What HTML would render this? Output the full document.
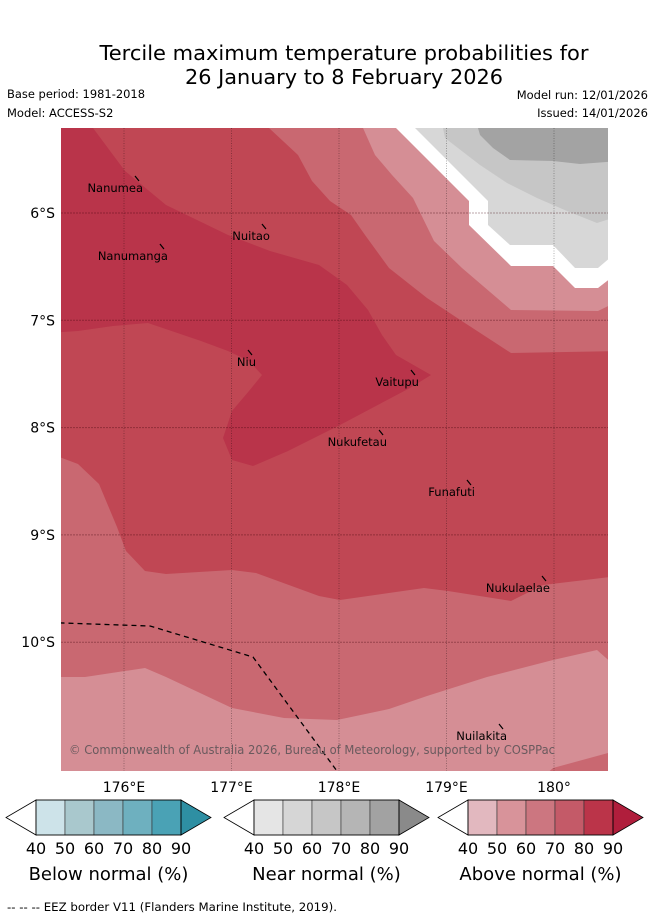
<!DOCTYPE html>
<html><head><meta charset="utf-8">
<style>
html,body{margin:0;padding:0;background:#fff;}
body{width:655px;height:919px;overflow:hidden;font-family:"Liberation Sans","DejaVu Sans",sans-serif;}
svg text{font-family:"DejaVu Sans","Liberation Sans",sans-serif;}
</style></head>
<body>
<svg id="chart" width="655" height="919" viewBox="0 0 655 919" xmlns="http://www.w3.org/2000/svg">
<text x="344" y="60" font-size="20" text-anchor="middle" fill="#000" textLength="489" lengthAdjust="spacingAndGlyphs">Tercile maximum temperature probabilities for</text>
<text x="344" y="84" font-size="20" text-anchor="middle" fill="#000" textLength="318" lengthAdjust="spacingAndGlyphs">26 January to 8 February 2026</text>
<text x="7" y="98" font-size="11.5" textLength="138" lengthAdjust="spacingAndGlyphs">Base period: 1981-2018</text>
<text x="7" y="117" font-size="11.5">Model: ACCESS-S2</text>
<text x="648" y="99" font-size="11.5" text-anchor="end">Model run: 12/01/2026</text>
<text x="648" y="117" font-size="11.5" text-anchor="end">Issued: 14/01/2026</text>
<defs><clipPath id="mapclip"><rect x="61" y="128" width="547" height="643"/></clipPath></defs>
<g id="map" clip-path="url(#mapclip)"></g>
<g id="overlay"></g>
<g id="legends"></g>
<text x="7" y="911" font-size="11.5" textLength="330" lengthAdjust="spacingAndGlyphs">--  --  -- EEZ border V11 (Flanders Marine Institute, 2019).</text>
</svg>
<script>
// ---- data ----
const lonTicks = [176, 177, 178, 179, 180];
const lonTickLabels = ["176°E", "177°E", "178°E", "179°E", "180°"];
const latTicks = [-6, -7, -8, -9, -10];
const latTickLabels = ["6°S", "7°S", "8°S", "9°S", "10°S"];
const islandNames = ["Nanumea","Nuitao","Nanumanga","Niu","Vaitupu","Nukufetau","Funafuti","Nukulaelae","Nuilakita"];
const islandLon = [176.121,177.302,176.353,177.172,178.688,178.391,179.209,179.907,179.507];
const islandLat = [-5.674,-6.121,-6.308,-7.295,-7.482,-8.041,-8.507,-9.402,-10.781];
const eezLine = [[175.40,-9.82],[176.242,-9.849],[177.2,-10.138],[177.981,-11.2]];
const bgLevel = "above70";
const contourLevels = ["above80","above60","above50","white","near50","near60","near80","above60","above50","above60"];
const contourPolys = [
 [[175.712,-5.208],[176.009,-5.609],[176.391,-5.925],[176.967,-6.205],[177.358,-6.354],[177.814,-6.485],[178.074,-6.671],[178.270,-6.904],[178.4,-7.137],[178.530,-7.323],[178.856,-7.51],[178.660,-7.631],[178.009,-7.976],[177.526,-8.218],[177.2,-8.358],[177.005,-8.302],[176.921,-8.097],[177.005,-7.845],[177.163,-7.659],[177.284,-7.51],[177.163,-7.379],[176.967,-7.286],[176.716,-7.193],[176.223,-7.025],[175.898,-7.053],[175.572,-7.1],[175.3,-7.118],[175.3,-5.1]],
 [[177.349,-5.1],[177.349,-5.208],[177.619,-5.459],[177.684,-5.581],[177.749,-5.702],[177.916,-5.888],[178.112,-6.019],[178.242,-6.205],[178.465,-6.513],[178.819,-6.792],[179.144,-7.007],[179.6,-7.305],[180.6,-7.286],[180.6,-5.1]],
 [[178.223,-5.1],[178.223,-5.208],[178.335,-5.459],[178.493,-5.646],[178.688,-5.860],[178.884,-6.261],[179.144,-6.513],[179.6,-6.904],[180.409,-6.913],[180.6,-6.82],[180.6,-5.1]],
 [[178.450,-5.1],[178.530,-5.208],[179.209,-5.888],[179.209,-6.112],[179.6,-6.494],[179.991,-6.494],[180.195,-6.699],[180.409,-6.699],[180.6,-6.55],[180.6,-5.1]],
 [[178.62,-5.1],[178.707,-5.208],[179.386,-5.888],[179.386,-6.112],[179.591,-6.298],[179.991,-6.298],[180.195,-6.513],[180.409,-6.513],[180.6,-6.35],[180.6,-5.1]],
 [[178.967,-5.1],[178.967,-5.208],[178.986,-5.301],[179.312,-5.553],[179.563,-5.720],[179.842,-5.860],[180.121,-5.981],[180.4,-6.093],[180.6,-6.03],[180.6,-5.1]],
 [[179.293,-5.1],[179.293,-5.208],[179.312,-5.273],[179.433,-5.394],[179.591,-5.506],[179.991,-5.515],[180.242,-5.543],[180.6,-5.515],[180.6,-5.1]],
 [[175.3,-8.237],[175.572,-8.339],[175.767,-8.526],[175.935,-8.926],[176.019,-9.15],[176.195,-9.336],[176.391,-9.364],[177.005,-9.327],[177.228,-9.355],[177.814,-9.569],[178.009,-9.607],[178.791,-9.495],[179.014,-9.523],[179.6,-9.616],[179.898,-9.467],[180.6,-9.383],[180.6,-11.3],[175.3,-11.3]],
 [[175.3,-10.324],[175.637,-10.324],[176.195,-10.24],[176.391,-10.324],[177.005,-10.613],[177.488,-10.706],[177.981,-10.725],[178.465,-10.623],[178.819,-10.501],[179.377,-10.324],[179.991,-10.166],[180.4,-10.073],[180.6,-10.25],[180.6,-11.3],[175.3,-11.3]],
 [[180.6,-11.0],[180.502,-11.033],[179.991,-11.172],[179.85,-11.3],[180.6,-11.3]]
];
const legendGroups = ["Below normal (%)","Near normal (%)","Above normal (%)"];
const legendTickLabels = ["40","50","60","70","80","90"];
const belowColors = ["#cde3e9","#a9c8cd","#8bb8c4","#6eb0bf","#4aa2b5","#2e8fa3"];
const nearColors = ["#e5e5e5","#d6d6d6","#c6c6c6","#b5b5b5","#a2a2a2","#8a8a8a"];
const aboveColors = ["#e2b8bf","#d8939a","#cc7680","#c45a68","#bb3449","#b01e3c"];
const levelColors = {above50:"#d58e95",above60:"#c96871",above70:"#c04754",above80:"#b9344a",white:"#ffffff",near50:"#d7d7d7",near60:"#c6c6c6",near80:"#a3a3a3"};

// ---- axes ----
const X0=61, X1=608, Y0=128, Y1=771;
const xScale = lon => 124 + (lon - 176) * 107.5;
const yScale = lat => 213 + (-6 - lat) * 107.3;
const NS="http://www.w3.org/2000/svg";
function mk(tag, attrs, parent){const e=document.createElementNS(NS,tag);for(const k in attrs)e.setAttribute(k,attrs[k]);parent.appendChild(e);return e;}
const map=document.getElementById('map'), ov=document.getElementById('overlay'), lg=document.getElementById('legends');

const bg=mk('rect',{x:X0,y:Y0,width:X1-X0,height:Y1-Y0,fill:levelColors[bgLevel]},map);


contourPolys.forEach((poly,i)=>{
  const p=mk('polygon',{points:poly.map(pt=>xScale(pt[0]).toFixed(1)+','+yScale(pt[1]).toFixed(1)).join(' '),fill:levelColors[contourLevels[i]]},map);
  
  
});
// grid
lonTicks.forEach((lon,i)=>{
  const x=xScale(lon);
  const l=mk('line',{x1:x,y1:Y0,x2:x,y2:Y1,stroke:'rgba(0,0,0,0.3)','stroke-width':1,'stroke-dasharray':'1,1.5'},map);
  
  
  const t=mk('text',{x:x,y:792,'font-size':14,'text-anchor':'middle',fill:'#000'},ov);
  t.textContent=lonTickLabels[i];
  
  
});
latTicks.forEach((lat,i)=>{
  const y=yScale(lat);
  const l=mk('line',{x1:X0,y1:y,x2:X1,y2:y,stroke:'rgba(60,0,10,0.35)','stroke-width':1,'stroke-dasharray':'2,1'},map);
  
  
  const t=mk('text',{x:55,y:y+5,'font-size':14,'text-anchor':'end',fill:'#000'},ov);
  t.textContent=latTickLabels[i];
  
  
});
// EEZ
const eez=mk('polyline',{points:eezLine.map(pt=>xScale(pt[0])+','+yScale(pt[1])).join(' '),fill:'none',stroke:'#000','stroke-width':1.3,'stroke-dasharray':'5,4'},map);


// copyright
const cp=mk('text',{x:69,y:754,'font-size':12,fill:'#6a5a5e',textLength:486,lengthAdjust:'spacingAndGlyphs'},map);
cp.textContent='© Commonwealth of Australia 2026, Bureau of Meteorology, supported by COSPPac';


// islands
islandNames.forEach((n,i)=>{
  const x=xScale(islandLon[i]), y=yScale(islandLat[i]);
  const m=mk('line',{x1:x-2,y1:y-2,x2:x+2,y2:y+3,stroke:'#000','stroke-width':1.2},map);
  
  
  const t=mk('text',{x:x+6,y:y+14,'font-size':11.5,'text-anchor':'end',fill:'#000'},map);
  t.textContent=n;
  
  
});
// legends
const legendX=[36,254,468], cellW=29, ly0=800, ly1=835, lym=817.5;
[belowColors,nearColors,aboveColors].forEach((cols,g)=>{
  const bx=legendX[g];
  const grp=mk('g',{},lg);
  
  
  mk('polygon',{points:`${bx},${ly0} ${bx-30},${lym} ${bx},${ly1}`,fill:'#fff',stroke:'#000','stroke-width':0.8},grp);
  for(let k=0;k<5;k++){
    const r=mk('rect',{x:bx+k*cellW,y:ly0,width:cellW,height:ly1-ly0,fill:cols[k],stroke:'#333','stroke-width':0.6},grp);
    
    
  }
  const ex=bx+5*cellW;
  mk('polygon',{points:`${ex},${ly0} ${ex+30},${lym} ${ex},${ly1}`,fill:cols[5],stroke:'#000','stroke-width':0.8},grp);
  mk('rect',{x:bx,y:ly0,width:5*cellW,height:ly1-ly0,fill:'none',stroke:'#000','stroke-width':0.8},grp);
  legendTickLabels.forEach((s,k)=>{
    const t=mk('text',{x:bx+k*cellW,y:854,'font-size':16,'text-anchor':'middle',fill:'#000'},grp);
    t.textContent=s;
    
    
  });
  const tt=mk('text',{x:bx+2.5*cellW,y:880,'font-size':18,'text-anchor':'middle',fill:'#000'},grp);
  tt.textContent=legendGroups[g];
  
  
});
</script>
</body></html>
